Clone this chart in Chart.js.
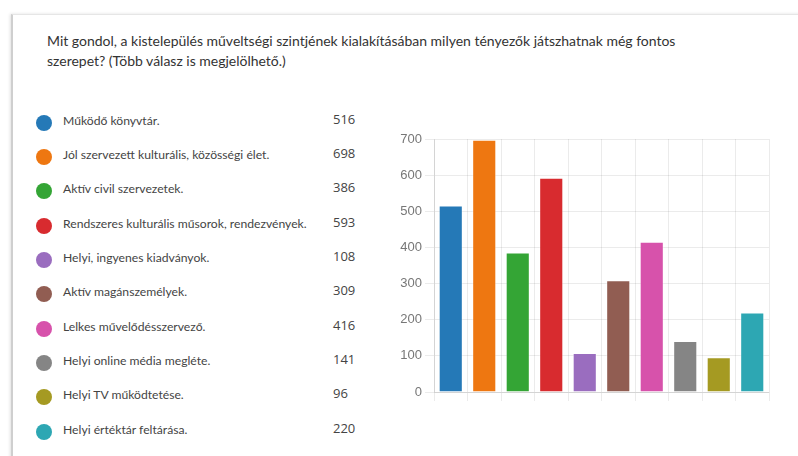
<!DOCTYPE html>
<html><head><meta charset="utf-8">
<script src="https://cdn.jsdelivr.net/npm/chart.js@4"></script>
<style>
html,body{margin:0;padding:0;background:#fff;width:798px;height:456px;overflow:hidden;font-family:Lato,"Open Sans",sans-serif;}
#card{position:absolute;left:11px;top:14px;width:800px;height:460px;border-top:1px solid #e6e6e6;border-left:2px solid #cfcfcf;box-shadow:-1px 0 3px rgba(0,0,0,0.12);}
.tline{position:absolute;left:47px;white-space:nowrap;color:#333;line-height:20px;height:20px;}
.lab{position:absolute;left:63px;white-space:nowrap;color:#444;line-height:20px;height:20px;}
.val{position:absolute;left:333px;white-space:nowrap;color:#444;line-height:20px;height:20px;font-size:13px;font-family:"Open Sans",sans-serif;}
.dot{position:absolute;left:36px;width:16px;height:16px;border-radius:50%;}
#chartBox{position:absolute;left:380px;top:120px;width:400px;height:300px;}
</style></head>
<body>
<div id="card"></div>
<div id="chartBox"><canvas id="c"></canvas></div>
<script>
const titleLines = [
  "Mit gondol, a kistelepülés műveltségi szintjének kialakításában milyen tényezők játszhatnak még fontos",
  "szerepet? (Több válasz is megjelölhető.)"
];
const categories = [
  "Működő könyvtár.",
  "Jól szervezett kulturális, közösségi élet.",
  "Aktív civil szervezetek.",
  "Rendszeres kulturális műsorok, rendezvények.",
  "Helyi, ingyenes kiadványok.",
  "Aktív magánszemélyek.",
  "Lelkes művelődésszervező.",
  "Helyi online média megléte.",
  "Helyi TV működtetése.",
  "Helyi értéktár feltárása."
];
const counts = [516, 698, 386, 593, 108, 309, 416, 141, 96, 220];
const colors = ["#2579b7","#ee7711","#34a535","#d82b2f","#9a6dbf","#915d52","#d752ab","#858585","#a59a22","#2da7b3"];
const yTicks = [0,100,200,300,400,500,600,700];

// font sizing to match reference text widths
const mc = document.createElement('canvas').getContext('2d');
function fit(text, base, target){ mc.font = base + 'px Lato'; return base * target / mc.measureText(text).width; }
const titleSize = fit(titleLines[0], 15, 629);
const labSize = fit(categories[3], 13, 244);

titleLines.forEach((t,i)=>{
  const d=document.createElement('div'); d.className='tline'; d.textContent=t;
  d.style.fontSize=titleSize+'px'; d.style.top=(31+i*19.5)+'px'; document.body.appendChild(d);
});
const rowY0 = 122.7, rowStep = 34.33;
categories.forEach((c,i)=>{
  const cy = rowY0 + i*rowStep;
  const dot=document.createElement('div'); dot.className='dot'; dot.style.background=colors[i]; dot.style.top=(cy-8)+'px'; document.body.appendChild(dot);
  const l=document.createElement('div'); l.className='lab'; l.textContent=c; l.style.fontSize=labSize+'px'; l.style.top=(cy-12)+'px'; document.body.appendChild(l);
  const v=document.createElement('div'); v.className='val'; v.textContent=String(counts[i]); v.style.top=(cy-14)+'px'; document.body.appendChild(v);
});

new Chart(document.getElementById('c'), {
  type:'bar',
  data:{labels:categories, datasets:[{data:counts, backgroundColor:colors, borderColor:'rgba(255,255,255,0.35)', borderWidth:1}]},
  options:{
    responsive:true, maintainAspectRatio:false, animation:false,
    layout:{padding:{top:19,bottom:19,right:11,left:0}},
    plugins:{legend:{display:false},tooltip:{enabled:false}},
    scales:{
      x:{ticks:{display:false}, grid:{color:'rgba(0,0,0,0.08)', tickLength:9}, border:{color:'rgba(0,0,0,0.1)'}},
      y:{min:0, max:700, afterBuildTicks(s){ s.ticks = yTicks.map(v=>({value:v})); },
         ticks:{color:'#777', padding:3, font:{size:13, family:'"Liberation Sans", Arial, sans-serif'}},
         grid:{color:'rgba(0,0,0,0.08)', tickLength:9}, border:{color:'rgba(0,0,0,0.1)'},
         afterFit(s){ s.width = 54; }}
    }
  }
});
</script>
</body></html>
